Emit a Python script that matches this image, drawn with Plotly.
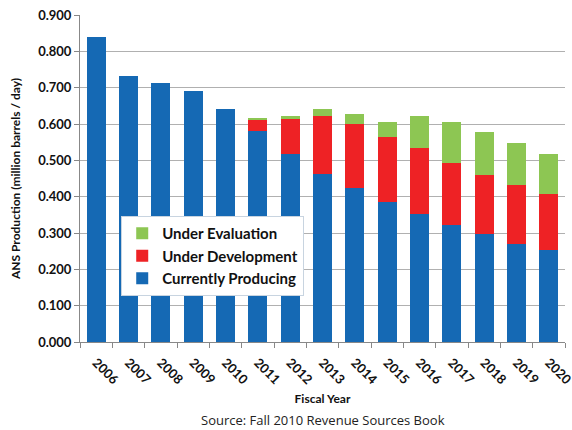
import plotly.graph_objects as go

years = [str(y) for y in range(2006, 2021)]
producing = [0.840, 0.733, 0.714, 0.690, 0.642, 0.582, 0.518, 0.462, 0.424, 0.384, 0.353, 0.321, 0.296, 0.271, 0.253]
development = [0, 0, 0, 0, 0, 0.031, 0.098, 0.161, 0.176, 0.179, 0.180, 0.173, 0.164, 0.161, 0.155]
evaluation = [0, 0, 0, 0, 0, 0.003, 0.005, 0.019, 0.028, 0.043, 0.090, 0.112, 0.119, 0.117, 0.109]

azul = '#1569B4'
rojo = '#EE2225'
verde = '#8DC653'
fuente = 'Lato'

fig = go.Figure()
fig.add_bar(x=years, y=producing, name='Currently Producing', marker=dict(color=azul, line=dict(width=0)))
fig.add_bar(x=years, y=development, name='Under Development', marker=dict(color=rojo, line=dict(width=0)))
fig.add_bar(x=years, y=evaluation, name='Under Evaluation', marker=dict(color=verde, line=dict(width=0)))

fig.update_layout(
    barmode='stack', bargap=0.42,
    width=572, height=430,
    margin=dict(l=80, r=7, t=15, b=88),
    plot_bgcolor='white', paper_bgcolor='white',
    font=dict(family=fuente, color='#111111', size=12),
    legend=dict(x=0.085, y=0.385, xanchor='left', yanchor='top', traceorder='reversed',
                bgcolor='white', bordercolor='#c8d4e0', borderwidth=1,
                font=dict(family=fuente, size=15, color='#111111', weight='bold'),
                itemsizing='constant', itemwidth=30),
    showlegend=True,
)
fig.update_yaxes(range=[0, 0.9], dtick=0.1, tickformat='.3f', automargin=False,
                 showgrid=True, gridcolor='#b0b0b0', gridwidth=1,
                 showline=True, linecolor='#888888', ticks='outside', ticklen=5, tickcolor='#888888',
                 tickfont=dict(family=fuente, size=13, weight='bold'),
                 title=dict(text='ANS Production (million barrels / day)', standoff=14,
                            font=dict(family=fuente, size=12, weight='bold')))
fig.update_xaxes(type='category', tickangle=45, tickson='boundaries', automargin=False,
                 showline=True, linecolor='#888888', ticks='outside', ticklen=5, tickcolor='#888888',
                 ticklabelstandoff=7,
                 tickfont=dict(family=fuente, size=13, weight='bold'),
                 title=dict(text='Fiscal Year', standoff=8, font=dict(family=fuente, size=12, weight='bold')))
fig.add_annotation(text='Source: Fall 2010 Revenue Sources Book', x=0.5, xref='paper', y=-0.24, yref='paper',
                   xanchor='center', yanchor='middle', showarrow=False,
                   font=dict(family='Open Sans', size=13, color='#222222'))

# quitar el margen del body para que la figura quede en (0,0)
fig.write_html("out.html", config={'displayModeBar': False},
               post_script="document.body.style.margin='0';")
